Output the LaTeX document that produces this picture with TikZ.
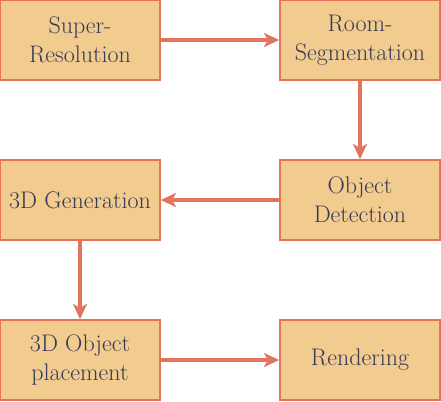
\documentclass[tikz,border=0pt]{standalone}
\usetikzlibrary{arrows.meta}
\definecolor{boxfill}{HTML}{F2CB8F}
\definecolor{boxline}{HTML}{E8735A}
\definecolor{arrowline}{HTML}{E07660}
\definecolor{textcol}{HTML}{343A58}

\begin{document}
\begin{tikzpicture}[x=0.75pt,y=-0.75pt,
    stage/.style={draw=boxline, fill=boxfill, line width=1.1pt, minimum width=120pt, minimum height=60pt,
        inner sep=0pt, align=center, text=textcol, font=\fontsize{18pt}{21.6pt}\selectfont},
    flow/.style={draw=arrowline, line width=2.3pt, -{Stealth[length=11.5pt, width=10.5pt, inset=3pt]}}]
                \useasboundingbox (0,0) rectangle (441,401);
                \node[stage] (super) at (80,40) {Super-\\Resolution};
                \node[stage] (room) at (360,40) {Room-\\Segmentation};
                \node[stage] (detect) at (360,200) {Object\\Detection};
                \node[stage] (gen) at (80,200) {3D Generation};
                \node[stage] (place) at (80,360) {3D Object\\placement};
                \node[stage] (render) at (360,360) {Rendering};
                \draw[flow] (super) -- (room);
                \draw[flow] (room) -- (detect);
                \draw[flow] (detect) -- (gen);
                \draw[flow] (gen) -- (place);
                \draw[flow] (place) -- (render);
            \end{tikzpicture}
\end{document}
